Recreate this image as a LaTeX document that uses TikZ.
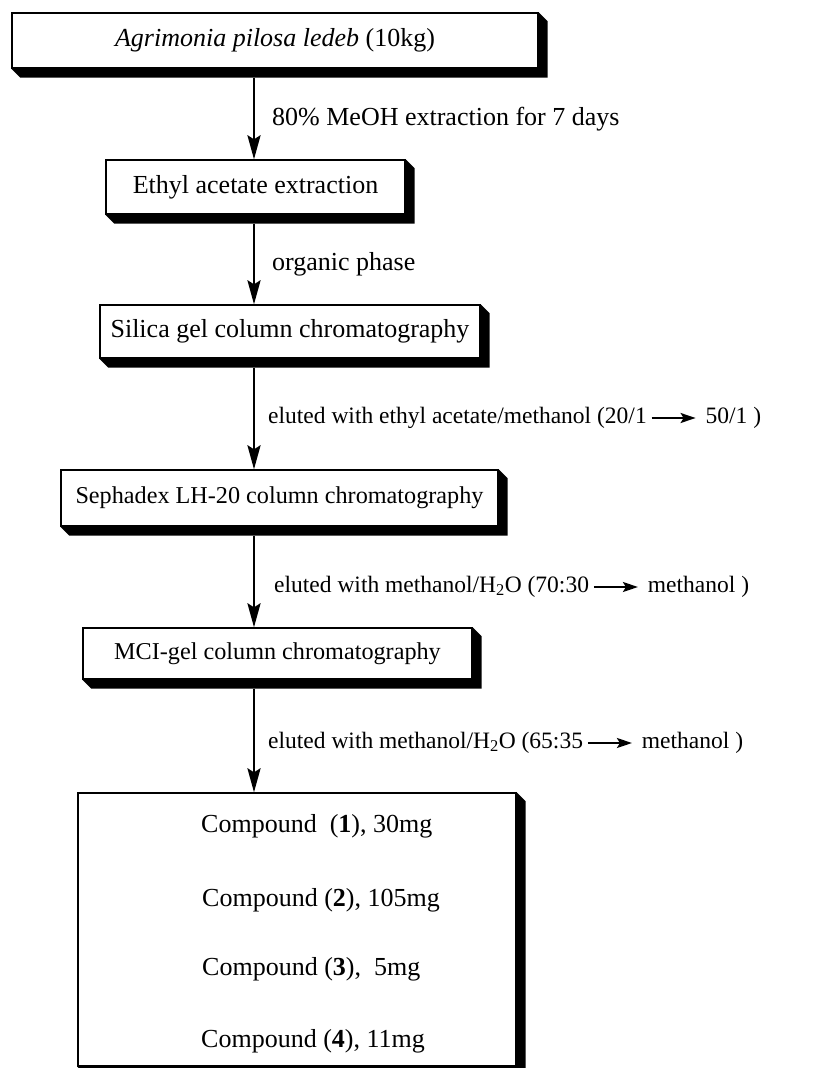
\documentclass[tikz,border=0pt]{standalone}
\usepackage{fontspec}
\setmainfont{Liberation Serif}
\usetikzlibrary{arrows.meta}
\newcommand{\inarrow}{\,\tikz[baseline={(0pt,-5pt)}]\draw[line width=2pt,-{Stealth[length=15pt,width=10pt,inset=3pt]}] (0pt,0pt) -- (44pt,0pt);\hspace{9pt}}
\begin{document}
\begin{tikzpicture}[x=1pt,y=-1pt,
  every node/.style={font=\fontsize{26}{31}\selectfont},
  smallfont/.style={font=\fontsize{24.2}{29}\selectfont},
  lblfont/.style={font=\fontsize{23.5}{28}\selectfont},
  stepbox/.style={draw, line width=1.3pt, fill=white, inner sep=0pt, anchor=center},
  lbl/.style={anchor=base west, inner sep=0pt},
  arr/.style={line width=2.8pt, -{Stealth[length=24pt,width=13pt,inset=4pt]}}]
\useasboundingbox (0,0) rectangle (822,1068);
\clip (0,0) rectangle (822,1068);
\coordinate (ax) at (254,0);
% boxes
\node[stepbox, minimum width=526pt, minimum height=55pt] (b1) at (275,40.5) {\textit{Agrimonia pilosa ledeb} (10kg)};
\node[stepbox, minimum width=299pt, minimum height=54pt] (b2) at (255.5,187) {Ethyl acetate extraction};
\node[stepbox, minimum width=380pt, minimum height=53pt] (b3) at (290,331.5) {Silica gel column chromatography};
\node[stepbox, smallfont, minimum width=437pt, minimum height=56pt] (b4) at (279.5,498) {Sephadex LH-20 column chromatography};
\node[stepbox, smallfont, minimum width=389pt, minimum height=51pt] (b5) at (277.5,653.5) {MCI-gel column chromatography};
\node[stepbox, minimum width=438pt, minimum height=273pt] (b6) at (297,929.5) {};
% shadows
\foreach \b in {b1,b2,b3,b4,b5,b6}{
  \fill (\b.south west) -- (\b.south east) -- (\b.north east)
    -- ([shift={(9,9)}]\b.north east) -- ([shift={(9,9)}]\b.south east)
    -- ([shift={(9,9)}]\b.south west) -- cycle;
}
% compound lines
\node[lbl] (c1) at (201,832) {Compound\ \ (\textbf{1}), 30mg};
\node[lbl] (c2) at (202,906) {Compound (\textbf{2}), 105mg};
\node[lbl] (c3) at (202,975) {Compound (\textbf{3}),\ \ 5mg};
\node[lbl] (c4) at (201,1047) {Compound (\textbf{4}), 11mg};
% arrows
\draw[arr] ([yshift=-9pt]b1.south -| ax) -- (b2.north -| ax);
\draw[arr] ([yshift=-9pt]b2.south -| ax) -- (b3.north -| ax);
\draw[arr] ([yshift=-9pt]b3.south -| ax) -- (b4.north -| ax);
\draw[arr] ([yshift=-9pt]b4.south -| ax) -- (b5.north -| ax);
\draw[arr] ([yshift=-9pt]b5.south -| ax) -- (b6.north -| ax);
% labels
\node[lbl] (l1) at (272,125) {80\% MeOH extraction for 7 days};
\node[lbl] (l2) at (272,270) {organic phase};
\node[lbl, lblfont] (l3) at (268,423) {eluted with ethyl acetate/methanol (20/1\inarrow 50/1 )};
\node[lbl, lblfont] (l4) at (274,592) {eluted with methanol/H\textsubscript{2}O (70:30\inarrow methanol )};
\node[lbl, lblfont] (l5) at (268,748) {eluted with methanol/H\textsubscript{2}O (65:35\inarrow methanol )};
\end{tikzpicture}
\end{document}
